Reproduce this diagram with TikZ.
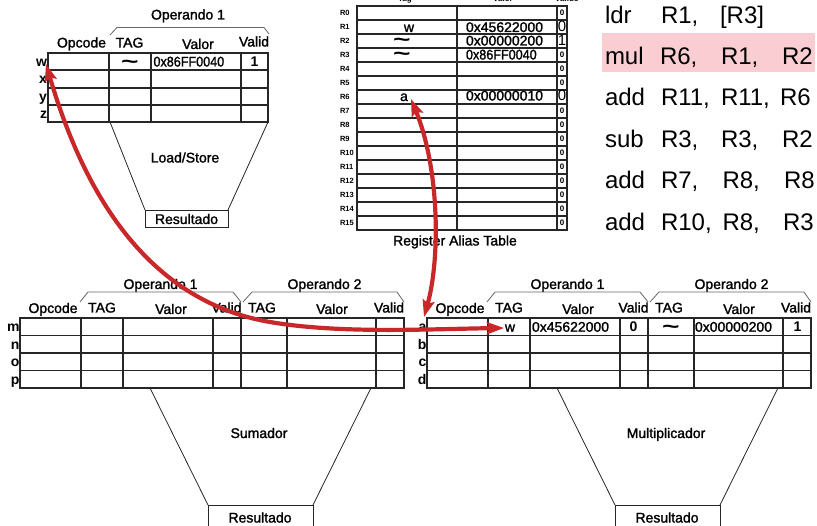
\documentclass[tikz,border=0pt]{standalone}
\usepackage{fontspec}
\setmainfont{Liberation Sans}
\newfontfamily\semib{Liberation Sans}[FakeBold=1.5]
\usepackage{graphicx}
\usetikzlibrary{arrows.meta}
\definecolor{arrred}{RGB}{200,40,42}
\definecolor{hlpink}{RGB}{250,205,210}
\newcommand\fs[1]{\fontsize{#1}{#1}\selectfont}
\newcommand\tld{\scalebox{2.0}[1.35]{\bfseries\fs{15}\textasciitilde}}
\newcommand\rstable[7]{%
\begin{scope}[xshift=#2pt]
\draw[tl] (20,318) rectangle (404,388);
\foreach \yy in {335.5,353,370.5} \draw[tl] (20,\yy) -- (404,\yy);
\foreach \xx in {81,123,213,241,287,376} \draw[tl] (\xx,318) -- (\xx,388);
\node[rl] (#1l1) at (19.5,326.75) {#3};
\node[rl] (#1l2) at (19.5,344.25) {#4};
\node[rl] (#1l3) at (19.5,361.75) {#5};
\node[rl] (#1l4) at (19.5,379.25) {#6};
\node[hdr] (#1op) at (53,313) {Opcode};
\node[hdr] (#1t1) at (102,312.5) {TAG};
\node[hdr] (#1v1) at (171,314) {Valor};
\node[hdr] (#1d1) at (226.5,312.5) {Valid};
\node[hdr] (#1t2) at (262,312.5) {TAG};
\node[hdr] (#1v2) at (332,314) {Valor};
\node[hdr] (#1d2) at (389,312.5) {Valid};
\node[hdr] (#1o1) at (160.5,289) {Operando 1};
\node[hdr] (#1o2) at (324.5,289) {Operando 2};
\draw[brk] (80,302) -- (88,292) -- (233,292) -- (241,302);
\draw[brk] (243,302) -- (252,292) -- (397,292) -- (404,302);
\draw[fn] (150,388) -- (208,505);
\draw[fn] (371,388) -- (313,505);
\draw[fn] (208,505) rectangle (313,540);
\node[ctr] (#1fu) at (259,433) {#7};
\node[ctr] (#1res) at (260,517.5) {Resultado};
\end{scope}}
\begin{document}
\begin{tikzpicture}[x=1pt,y=-1pt,
  every node/.style={inner sep=0pt,outer sep=0pt},
  hdr/.style={font=\semib\fs{14},anchor=base},
  ctr/.style={font=\semib\fs{14},text height=10pt,text depth=0pt},
  tg/.style={font=\fs{14},text height=4pt,text depth=0pt,yshift=-5pt},
  rl/.style={font=\bfseries\fs{14},anchor=east,text height=10pt,text depth=0pt},
  val/.style={font=\semib\fs{14},anchor=west,text height=10pt,text depth=0pt},
  bit/.style={font=\bfseries\fs{14},text height=10pt,text depth=0pt},
  reg/.style={font=\bfseries\fs{7.5},anchor=west,text height=5.4pt,text depth=0pt},
  sbit/.style={font=\bfseries\fs{8},text height=5.7pt,text depth=0pt},
  ins/.style={font=\fs{24},anchor=base west},
  tl/.style={draw=black!85,line width=1.3pt},
  fn/.style={draw=black!85,line width=0.8pt},
  brk/.style={draw=black!60,line width=0.8pt},
  hot/.style={draw=arrred,line width=4.2pt,
    {Stealth[length=17pt,width=12pt,inset=3pt]}-{Stealth[length=17pt,width=12pt,inset=3pt]}}]
\useasboundingbox (0,0) rectangle (817,526);

% ---------------- instructions
\fill[hlpink] (602,33) rectangle (815,72);
\node[ins] (i1a) at (605,24) {ldr};
\node[ins] (i1b) at (661,24) {R1,};
\node[ins] (i1c) at (720,24) {[R3]};
\node[ins] (i2a) at (605,64.5) {mul};
\node[ins] (i2b) at (660,64.5) {R6,};
\node[ins] (i2c) at (721,64.5) {R1,};
\node[ins] (i2d) at (782,64.5) {R2};
\node[ins] (i3a) at (605,106) {add};
\node[ins] (i3b) at (661,106) {R11,};
\node[ins] (i3c) at (721,106) {R11,};
\node[ins] (i3d) at (780,106) {R6};
\node[ins] (i4a) at (605,147.5) {sub};
\node[ins] (i4b) at (661,147.5) {R3,};
\node[ins] (i4c) at (721,147.5) {R3,};
\node[ins] (i4d) at (782,147.5) {R2};
\node[ins] (i5a) at (605,189) {add};
\node[ins] (i5b) at (661,189) {R7,};
\node[ins] (i5c) at (722.5,189) {R8,};
\node[ins] (i5d) at (784,189) {R8};
\node[ins] (i6a) at (605,230.5) {add};
\node[ins] (i6b) at (661,230.5) {R10,};
\node[ins] (i6c) at (722.5,230.5) {R8,};
\node[ins] (i6d) at (783,230.5) {R3};

% ---------------- Load/Store station
\draw[tl] (48,53) rectangle (268,122);
\foreach \yy in {70,88,105} \draw[tl] (48,\yy) -- (268,\yy);
\foreach \xx in {109,151,241} \draw[tl] (\xx,53) -- (\xx,122);
\node[rl] (lw) at (47,61.5) {w};
\node[rl] (lx) at (47,79) {x};
\node[rl] (ly) at (47,96.5) {y};
\node[rl] (lz) at (47,113.5) {z};
\node[hdr] (lop) at (81.5,47.5) {Opcode};
\node[hdr] (lt1) at (129.5,47.5) {TAG};
\node[hdr] (lv1) at (198,49) {Valor};
\node[hdr] (ld1) at (254,46.5) {Valid};
\node[hdr] (lo1) at (188,19.5) {Operando 1};
\draw[brk] (110,35) -- (117,27.5) -- (264,27.5) -- (269,34);
\node[tg] (ltag) at (130,61.5) {\tld};
\node[val] (lval) at (153.5,61.5) {\scalebox{0.9}[1]{0x86FF0040}};
\node[bit] (lbit) at (254.5,61.5) {1};
\draw[fn] (110,122) -- (145,210);
\draw[fn] (268,122) -- (228,210);
\draw[fn] (145,210) rectangle (228,227);
\node[ctr] (lfu) at (185,157.5) {Load/Store};
\node[ctr] (lres) at (186.5,219) {Resultado};

% ---------------- Register Alias Table
\draw[tl] (357,6) rectangle (567,230);
\foreach \i in {1,...,15} \draw[tl] (357,{6+14*\i}) -- (567,{6+14*\i});
\draw[tl] (457,6) -- (457,230);
\draw[tl] (557,6) -- (557,230);
\foreach \i in {0,...,15} \node[reg] (r\i) at (340,{13+14*\i}) {R\i};
\foreach \i in {0,3,4,5,7,8,9,10,11,12,13,14,15} \node[sbit] (v\i) at (562,{13+14*\i}) {0};
\node[ctr,font=\fs{15}] (v1) at (562,27) {0};
\node[ctr,font=\fs{15}] (v2) at (562,41) {1};
\node[ctr,font=\fs{15}] (v6) at (562,96) {0};
\node[ctr] (t1) at (409,27) {w};
\node[tg] (t2) at (402,40) {\tld};
\node[tg] (t3) at (402,54) {\tld};
\node[ctr] (t6) at (404,96) {a};
\node[val] (x1) at (466,27) {0x45622000};
\node[val] (x2) at (466,40.5) {0x00000200};
\node[val] (x3) at (466,54.5) {\scalebox{0.9}[1]{0x86FF0040}};
\node[val] (x6) at (466,95.5) {0x00000010};
\node[font=\bfseries\fs{8},anchor=base] (hr1) at (405,2) {Tag};
\node[font=\bfseries\fs{8},anchor=base] (hr2) at (503,2) {Valor};
\node[font=\bfseries\fs{8},anchor=base] (hr3) at (567,2) {Valido};
\node[hdr] (rat) at (455,245.5) {Register Alias Table};

% ---------------- Sumador / Multiplicador stations
\rstable{s}{0}{m}{n}{o}{p}{Sumador}
\rstable{m}{407}{a}{b}{c}{d}{Multiplicador}
\node[ctr] (mtag) at (510,326.75) {w};
\node[val] (mval) at (532,326.75) {0x45622000};
\node[bit] (mbit1) at (633.5,326.75) {0};
\node[tg] (mtag2) at (671,326.75) {\tld};
\node[val] (mval2) at (695,326.75) {0x00000200};
\node[bit] (mbit2) at (797.5,326.75) {1};

% ---------------- red connectors
\coordinate (wtip) at (46,64);
\coordinate (wend) at (504,328);
\coordinate (atop) at (411,99);
\coordinate (abot) at (424,317);
\draw[hot] (wtip) .. controls (80,180) and (140,300) .. (270,322)
  .. controls (340,334) and (430,329) .. (wend);
\draw[hot] (atop) .. controls (440,170) and (440,260) .. (abot);
\end{tikzpicture}
\end{document}
